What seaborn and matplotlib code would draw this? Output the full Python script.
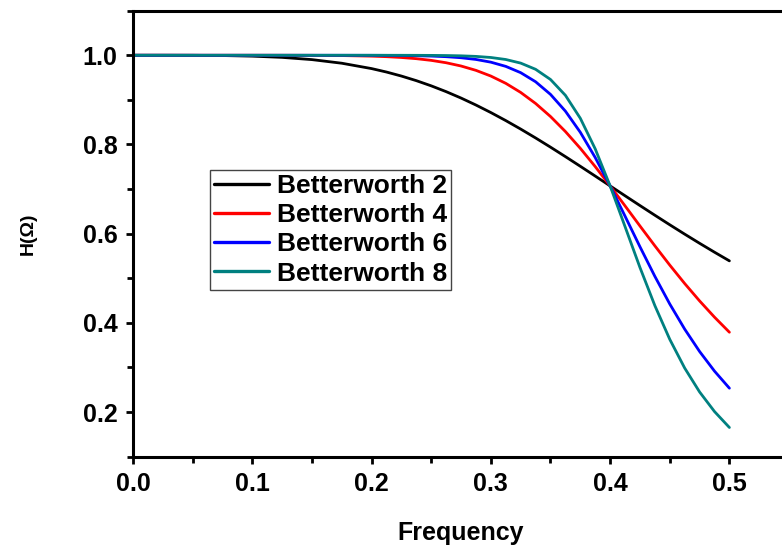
import numpy as np
import pandas as pd
import matplotlib
matplotlib.use("Agg")
import matplotlib.pyplot as plt
import seaborn as sns
from matplotlib.ticker import MultipleLocator

# Frequencies at which the curves were read
freq = [0.0, 0.025, 0.05, 0.075, 0.1, 0.125, 0.15, 0.175, 0.2,
        0.2125, 0.225, 0.2375, 0.25, 0.2625, 0.275, 0.2875, 0.3,
        0.3125, 0.325, 0.3375, 0.35, 0.3625, 0.375, 0.3875, 0.4,
        0.4125, 0.425, 0.4375, 0.45, 0.4625, 0.475, 0.4875, 0.5]

bw2 = [1.0, 1.0, 0.99988, 0.99938, 0.99805, 0.99527, 0.99026, 0.98217, 0.97014,
       0.96241, 0.95341, 0.94311, 0.93146, 0.91845, 0.90410, 0.88845, 0.87157,
       0.85357, 0.83455, 0.81465, 0.79401, 0.77278, 0.75112, 0.72918, 0.70711,
       0.68503, 0.66308, 0.64136, 0.61996, 0.59897, 0.57846, 0.55847, 0.53905]
bw4 = [1.0, 1.0, 1.0, 1.0, 0.99999, 0.99995, 0.99980, 0.99933, 0.99805,
       0.99685, 0.99503, 0.99236, 0.98856, 0.98323, 0.97594, 0.96618, 0.95341,
       0.93709, 0.91672, 0.89198, 0.86271, 0.82903, 0.79138, 0.75044, 0.70711,
       0.66239, 0.61731, 0.57278, 0.52957, 0.48827, 0.44927, 0.41283, 0.37904]
bw6 = [1.0, 1.0, 1.0, 1.0, 1.0, 1.0, 1.0, 0.99998, 0.99988,
       0.99975, 0.99950, 0.99904, 0.99823, 0.99683, 0.99447, 0.99063, 0.98453,
       0.97511, 0.96102, 0.94064, 0.91233, 0.87474, 0.82734, 0.77078, 0.70711,
       0.63931, 0.57074, 0.50437, 0.44238, 0.38605, 0.33590, 0.29186, 0.25358]
bw8 = [1.0, 1.0, 1.0, 1.0, 1.0, 1.0, 1.0, 1.0, 0.99999,
       0.99998, 0.99995, 0.99988, 0.99973, 0.99941, 0.99876, 0.99748, 0.99503,
       0.99051, 0.98244, 0.96856, 0.94573, 0.91022, 0.85874, 0.79015, 0.70711,
       0.61591, 0.52429, 0.43876, 0.36314, 0.29874, 0.24517, 0.20124, 0.16546]

labels = ["Betterworth 2", "Betterworth 4", "Betterworth 6", "Betterworth 8"]
colors = ["#000000", "#FF0000", "#0000FF", "#008080"]

xticks = [0.0, 0.1, 0.2, 0.3, 0.4, 0.5]
yticks = [0.2, 0.4, 0.6, 0.8, 1.0]

df = pd.concat([
    pd.DataFrame({"Frequency": freq, "H": vals, "series": lab})
    for vals, lab in zip([bw2, bw4, bw6, bw8], labels)
], ignore_index=True)

sns.set_style("ticks")
plt.rcParams["font.family"] = ["Liberation Sans", "DejaVu Sans"]
plt.rcParams["font.weight"] = "bold"
plt.rcParams["text.color"] = "black"
plt.rcParams["axes.labelcolor"] = "black"
plt.rcParams["xtick.color"] = "black"
plt.rcParams["ytick.color"] = "black"

fig = plt.figure(figsize=(7.82, 5.47), dpi=100)
ax = fig.add_axes([0.1701, 0.1651, 0.8389, 0.8154])

sns.lineplot(data=df, x="Frequency", y="H", hue="series", hue_order=labels,
             palette=colors, linewidth=2.0, ax=ax, sort=False)

ax.set_xlim(0.0, 0.55)
ax.set_ylim(0.1, 1.1)
ax.set_xticks(xticks)
ax.set_xticklabels([f"{t:.1f}" for t in xticks])
ax.set_yticks(yticks)
ax.set_yticklabels([f"{t:.1f}" for t in yticks])
ax.xaxis.set_minor_locator(MultipleLocator(0.05))
ax.yaxis.set_minor_locator(MultipleLocator(0.1))

for s in ax.spines.values():
    s.set_linewidth(2.2)
    s.set_color("black")

ax.tick_params(axis="both", which="major", direction="out", length=5, width=2,
               labelsize=18, pad=6, colors="black", labelcolor="black")
ax.tick_params(axis="both", which="minor", direction="out", length=4, width=2,
               colors="black")
for lbl in ax.get_xticklabels() + ax.get_yticklabels():
    lbl.set_fontweight("bold")

ax.set_xlabel("Frequency", fontsize=18, fontweight="bold", labelpad=18,
              color="black")
ax.set_ylabel("H(Ω)", fontsize=14, fontweight="bold", labelpad=33,
              color="black")

leg = ax.legend(loc="upper left", bbox_to_anchor=(0.117, 0.643), borderaxespad=0,
                frameon=True, fancybox=False, framealpha=1, edgecolor="#444444",
                prop={"family": ["Liberation Sans"], "weight": "bold", "size": 19},
                handlelength=2.1, handletextpad=0.3, labelspacing=0.2,
                borderpad=0.15)
leg.get_frame().set_linewidth(1.0)
for line in leg.get_lines():
    line.set_linewidth(2.4)
for t in leg.get_texts():
    t.set_color("black")

fig.savefig("out.png", dpi=100)
